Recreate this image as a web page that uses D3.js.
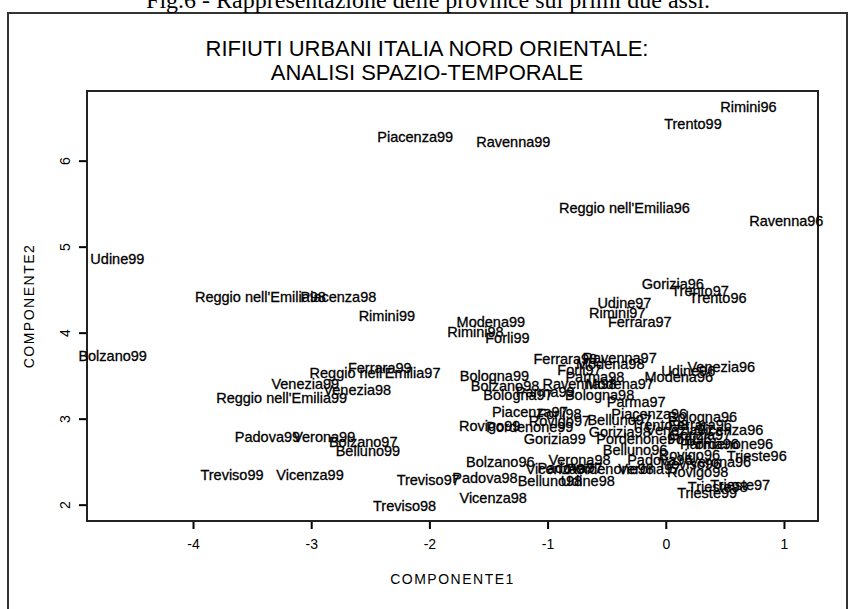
<!DOCTYPE html>
<html>
<head>
<meta charset="utf-8">
<script src="https://cdn.jsdelivr.net/npm/d3@7"></script>
<style>
  body { margin: 0; background: #fff; }
  svg { display: block; }
  .lbl { font-family: "Liberation Sans", Arial, sans-serif; font-size: 14.5px; fill: #000; stroke: #000; stroke-width: 0.3px; }
  .axis text { font-family: "Liberation Sans", Arial, sans-serif; font-size: 14px; fill: #000; }
</style>
</head>
<body>
<svg id="chart" width="851" height="609"></svg>
<script>
// province names, one label per province per year
const provinces = ["Belluno", "Bologna", "Bolzano", "Ferrara", "Forli", "Gorizia", "Modena", "Padova",
  "Parma", "Piacenza", "Pordenone", "Ravenna", "Reggio nell'Emilia", "Rimini", "Rovigo", "Trento",
  "Treviso", "Trieste", "Udine", "Venezia", "Verona", "Vicenza"];
const years = ["96", "97", "98", "99"];

// COMPONENTE1 / COMPONENTE2 scores, same order as provinces
const comp1_96 = [-0.26, 0.31, -1.40, 0.29, 0.20, 0.06, 0.11, -0.05, 0.37, -0.14, 0.54, 1.02, -0.35, 0.70, 0.20, 0.44, 0.20, 0.77, 0.19, 0.47, 0.46, 0.54];
const comp2_96 = [2.63, 3.02, 2.50, 2.93, 2.76, 4.57, 3.49, 2.52, 2.70, 3.05, 2.70, 5.30, 5.45, 6.62, 2.58, 4.40, 2.47, 2.57, 3.55, 3.60, 2.50, 2.87];
const comp1_97 = [-0.39, -1.25, -2.56, -0.22, -0.73, 0.29, -0.39, -0.81, -0.25, -1.15, -0.22, -0.39, -2.46, -0.41, -0.90, 0.29, -2.01, 0.63, -0.35, 0.12, -0.14, -0.90];
const comp2_97 = [2.99, 3.28, 2.73, 4.12, 3.57, 2.81, 3.40, 2.43, 3.19, 3.08, 2.76, 3.71, 3.53, 4.23, 2.97, 4.49, 2.29, 2.23, 4.35, 2.87, 2.41, 2.41];
const comp1_98 = [-0.98, -0.56, -1.36, -0.85, -0.90, -0.39, -0.47, -1.53, -0.60, -2.77, -0.47, -0.73, -3.43, -1.61, 0.27, -0.05, -2.21, 0.44, -0.66, -2.61, -0.73, -1.46];
const comp2_98 = [2.27, 3.28, 3.38, 3.69, 3.05, 2.85, 3.63, 2.31, 3.49, 4.42, 2.41, 3.40, 4.42, 4.01, 2.38, 2.93, 1.98, 2.21, 2.27, 3.33, 2.52, 2.08];
const comp1_99 = [-2.52, -1.45, -4.68, -2.42, -1.34, -0.94, -1.48, -3.37, -1.02, -2.12, -1.15, -1.29, -3.25, -2.36, -1.49, 0.23, -3.67, 0.35, -4.64, -3.05, -2.89, -3.01];
const comp2_99 = [2.62, 3.50, 3.73, 3.59, 3.94, 2.76, 4.12, 2.79, 3.31, 6.27, 2.90, 6.22, 3.24, 4.19, 2.91, 6.43, 2.35, 2.14, 4.86, 3.40, 2.79, 2.35];

const xTicks = [-4, -3, -2, -1, 0, 1];
const yTicks = [2, 3, 4, 5, 6];

const comp1 = [comp1_96, comp1_97, comp1_98, comp1_99];
const comp2 = [comp2_96, comp2_97, comp2_98, comp2_99];
const points = [];
years.forEach((yr, j) => {
  provinces.forEach((p, i) => {
    points.push({ label: p + yr, x: comp1[j][i], y: comp2[j][i] });
  });
});

const svg = d3.select("#chart");
const plot = { left: 87, top: 91, right: 818, bottom: 521 };

const x = d3.scaleLinear().domain([-4.897, 1.288]).range([plot.left, plot.right]);
const y = d3.scaleLinear().domain([1.81, 6.81]).range([plot.bottom, plot.top]);

// outer frame of the figure
svg.append("rect")
  .attr("x", 8).attr("y", 13)
  .attr("width", 839).attr("height", 620)
  .attr("fill", "none").attr("stroke", "#333").attr("stroke-width", 2);

// caption above the figure (cut off at top)
svg.append("text")
  .attr("x", 428).attr("y", 8)
  .attr("text-anchor", "middle")
  .style("font-family", "'Liberation Serif', 'Times New Roman', serif")
  .style("font-size", "24px")
  .text("Fig.6 - Rappresentazione delle province sui primi due assi.");

// title
const title = svg.append("g")
  .style("font-family", "'Liberation Sans', Arial, sans-serif")
  .style("font-size", "22px")
  .attr("text-anchor", "middle");
title.append("text").attr("x", 427).attr("y", 56).text("RIFIUTI URBANI ITALIA NORD ORIENTALE:");
title.append("text").attr("x", 427).attr("y", 80).text("ANALISI SPAZIO-TEMPORALE");

// axes
const xAxis = d3.axisBottom(x).tickValues(xTicks).tickSize(8).tickSizeOuter(0).tickPadding(10)
  .tickFormat(d => d < 0 ? "-" + Math.abs(d) : d);
const gx = svg.append("g")
  .attr("class", "axis")
  .attr("transform", `translate(0,${plot.bottom})`)
  .call(xAxis);
gx.select(".domain").remove();
gx.selectAll("line").attr("stroke", "#000").attr("stroke-width", 2);

const yAxis = d3.axisLeft(y).tickValues(yTicks).tickSize(8).tickSizeOuter(0)
  .tickFormat(d3.format("d"));
const gy = svg.append("g")
  .attr("class", "axis")
  .attr("transform", `translate(${plot.left},0)`)
  .call(yAxis);
gy.select(".domain").remove();
gy.selectAll("line").attr("stroke", "#000").attr("stroke-width", 2);
gy.selectAll("text")
  .attr("x", null).attr("dy", null)
  .attr("text-anchor", "middle")
  .attr("dominant-baseline", "central")
  .attr("transform", "translate(-22,0) rotate(-90)");

// plot box
svg.append("rect")
  .attr("x", plot.left).attr("y", plot.top)
  .attr("width", plot.right - plot.left).attr("height", plot.bottom - plot.top)
  .attr("fill", "none").attr("stroke", "#222").attr("stroke-width", 2);

// axis titles
svg.append("text")
  .attr("x", (plot.left + plot.right) / 2).attr("y", 584)
  .attr("text-anchor", "middle")
  .style("font-family", "'Liberation Sans', Arial, sans-serif")
  .style("font-size", "14px").style("letter-spacing", "1.5px")
  .text("COMPONENTE1");
svg.append("text")
  .attr("transform", `translate(34,${(plot.top + plot.bottom) / 2}) rotate(-90)`)
  .attr("text-anchor", "middle")
  .style("font-family", "'Liberation Sans', Arial, sans-serif")
  .style("font-size", "14px").style("letter-spacing", "1.5px")
  .text("COMPONENTE2");

// point labels
svg.append("g").selectAll("text")
  .data(points)
  .enter()
  .append("text")
  .attr("class", "lbl")
  .attr("x", d => x(d.x))
  .attr("y", d => y(d.y))
  .attr("text-anchor", "middle")
  .attr("dominant-baseline", "central")
  .text(d => d.label);
</script>
</body>
</html>
